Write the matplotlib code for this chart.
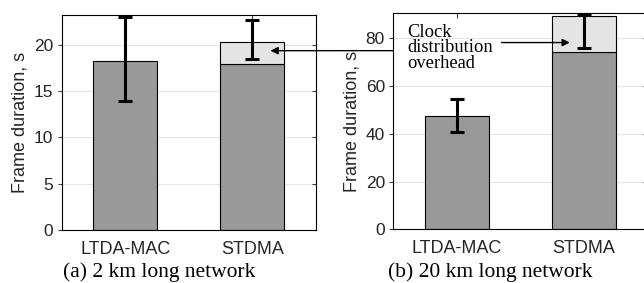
import matplotlib
matplotlib.use("Agg")
import matplotlib.pyplot as plt
from matplotlib.lines import TICKLEFT

# data
methods = ["LTDA-MAC", "STDMA"]

base_2km = [18.2, 17.9]
overhead_2km = [0.0, 2.4]
err_lo_2km = [13.9, 18.4]
err_hi_2km = [23.0, 22.7]

base_20km = [47.5, 74.1]
overhead_20km = [0.0, 15.2]
err_lo_20km = [40.9, 75.8]
err_hi_20km = [54.6, 90.3]

captions = ["(a) 2 km long network", "(b) 20 km long network"]

DARK = "#999999"
LIGHT = "#e4e4e4"
SANS = ["Liberation Sans", "DejaVu Sans"]
SERIF = ["Liberation Serif", "DejaVu Serif"]

W, H = 644, 283
fig = plt.figure(figsize=(W / 100, H / 100), dpi=100)


def px_axes(left, top, right, bottom):
    return fig.add_axes([left / W, 1 - bottom / H, (right - left) / W, (bottom - top) / H])


def draw_panel(ax, base, overhead, lo, hi, ymax, yticks):
    x = [1, 2]
    ax.bar(x, base, width=0.5, color=DARK, edgecolor="black", linewidth=0.8, zorder=2)
    tops = [b + o for b, o in zip(base, overhead)]
    for xi, b, o in zip(x, base, overhead):
        if o > 0:
            ax.bar(xi, o, bottom=b, width=0.5, color=LIGHT, edgecolor="black",
                   linewidth=0.8, zorder=2)
    yerr = [[t - l for t, l in zip(tops, lo)], [h - t for t, h in zip(tops, hi)]]
    ax.errorbar(x, tops, yerr=yerr, fmt="none", ecolor="black", elinewidth=2.2,
                capsize=5, capthick=2.2, zorder=4, clip_on=False)
    ax.set_xlim(0.5, 2.5)
    ax.set_ylim(0, ymax)
    ax.set_xticks(x)
    ax.set_xticklabels(methods, family=SANS, fontsize=13, color="#262626")
    ax.set_yticks(yticks)
    ax.set_yticklabels([str(t) for t in yticks], family=SANS, fontsize=12.5, color="#262626")
    ax.set_ylabel("Frame duration, s", family=SANS, fontsize=13, color="#262626", labelpad=4)
    ax.yaxis.grid(True, color="#e6e6e6", linewidth=0.8, zorder=0)
    ax.set_axisbelow(True)
    ax.tick_params(direction="in", top=True, right=True, length=3.5, width=0.8,
                   color="#404040", pad=3)
    ax.tick_params(axis="x", bottom=False, pad=8)
    ax.tick_params(axis="y", direction="out", length=3)
    for t in ax.yaxis.get_major_ticks():
        t.tick2line.set_marker(TICKLEFT)
    for s in ax.spines.values():
        s.set_linewidth(0.8)
        s.set_color("black")


ax1 = px_axes(61.7, 15, 315.7, 230)
draw_panel(ax1, base_2km, overhead_2km, err_lo_2km, err_hi_2km, 23.2, [0, 5, 10, 15, 20])

ax2 = px_axes(393.3, 12.7, 647.3, 229.3)
draw_panel(ax2, base_20km, overhead_20km, err_lo_20km, err_hi_20km, 90.7, [0, 20, 40, 60, 80])

# annotation
ax2.text(0.61, 86.0, "Clock\ndistribution\noverhead", family=SERIF, fontsize=13.3,
         va="top", ha="left", linespacing=0.88, zorder=5)
ax2.annotate("", xy=(1.89, 78.2), xytext=(1.352, 78.2),
             arrowprops=dict(arrowstyle="-|>", color="black", lw=1, mutation_scale=11,
                             shrinkA=0, shrinkB=0))
ax1.annotate("", xy=(2.144, 19.35), xytext=(0.551, 74.8), textcoords=ax2.transData,
             arrowprops=dict(arrowstyle="-|>", color="black", lw=1, mutation_scale=11,
                             shrinkA=0, shrinkB=0))

fig.text(159 / W, 1 - 277 / H, captions[0], family=SERIF, fontsize=15.5,
         ha="center", va="baseline")
fig.text(490 / W, 1 - 277 / H, captions[1], family=SERIF, fontsize=15.5,
         ha="center", va="baseline")

fig.savefig("out.png", dpi=100)
